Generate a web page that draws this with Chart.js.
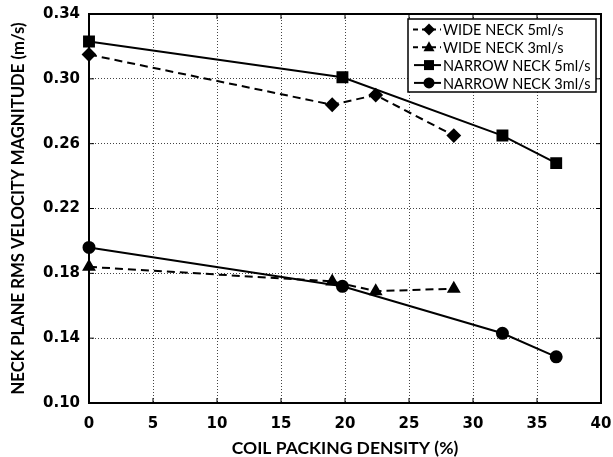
<!DOCTYPE html>
<html>
<head>
<meta charset="utf-8">
<script src="https://cdn.jsdelivr.net/npm/chart.js@4.4.0/dist/chart.umd.min.js"></script>
<style>
  body { margin: 0; background: #fff; }
  #wrap { width: 613px; height: 457px; }
</style>
</head>
<body>
<div id="wrap"><canvas id="neck-chart" width="613" height="457"></canvas></div>
<script>
// coil packing density (%) for each neck type
const wideDensity = [0, 19.0, 22.4, 28.5];
const narrowDensity = [0, 19.8, 32.3, 36.5];
// rms velocity magnitude (m/s)
const wide5 = [0.315, 0.284, 0.290, 0.265];
const wide3 = [0.184, 0.175, 0.169, 0.1705];
const narrow5 = [0.323, 0.301, 0.265, 0.248];
const narrow3 = [0.196, 0.172, 0.143, 0.1285];
const seriesNames = ["WIDE NECK 5ml/s", "WIDE NECK 3ml/s", "NARROW NECK 5ml/s", "NARROW NECK 3ml/s"];
const xTickStep = 5;
const yTickStep = 0.04;

function pts(xs, ys) {
  return xs.map((v, i) => ({ x: v, y: ys[i] }));
}

const base = {
  borderColor: "#000",
  backgroundColor: "#000",
  pointBorderColor: "#000",
  pointBackgroundColor: "#000",
  borderWidth: 2,
  tension: 0,
  clip: false
};

const dataObj = {
  datasets: [
    Object.assign({}, base, { label: seriesNames[0], data: pts(wideDensity, wide5), borderDash: [8, 5], pointStyle: "rectRot", pointRadius: 6 }),
    Object.assign({}, base, { label: seriesNames[1], data: pts(wideDensity, wide3), borderDash: [8, 5], pointStyle: "triangle", pointRadius: 6 }),
    Object.assign({}, base, { label: seriesNames[2], data: pts(narrowDensity, narrow5), pointStyle: "rect", pointRadius: 7 }),
    Object.assign({}, base, { label: seriesNames[3], data: pts(narrowDensity, narrow3), pointStyle: "circle", pointRadius: 5.5 })
  ]
};

// little marker drawer for the legend box
function marker(ctx, style, x, y) {
  ctx.beginPath();
  if (style === "rect") {
    ctx.rect(x - 5, y - 5, 10, 10);
  } else if (style === "rectRot") {
    ctx.moveTo(x, y - 6); ctx.lineTo(x + 6, y); ctx.lineTo(x, y + 6); ctx.lineTo(x - 6, y);
  } else if (style === "triangle") {
    ctx.moveTo(x, y - 6); ctx.lineTo(x + 5.5, y + 4); ctx.lineTo(x - 5.5, y + 4);
  } else {
    ctx.arc(x, y, 5.5, 0, Math.PI * 2);
  }
  ctx.closePath();
  ctx.fill();
}

const framePlugin = {
  id: "frame",
  beforeDatasetsDraw(chart) {
    const { ctx, chartArea: a, scales } = chart;
    ctx.save();
    ctx.strokeStyle = "#000";
    ctx.lineWidth = 1;
    ctx.beginPath();
    scales.x.ticks.forEach(t => {
      const px = scales.x.getPixelForValue(t.value);
      ctx.moveTo(px, a.bottom); ctx.lineTo(px, a.bottom - 5);
      ctx.moveTo(px, a.top); ctx.lineTo(px, a.top + 5);
    });
    scales.y.ticks.forEach(t => {
      const py = scales.y.getPixelForValue(t.value);
      ctx.moveTo(a.left, py); ctx.lineTo(a.left + 5, py);
      ctx.moveTo(a.right, py); ctx.lineTo(a.right - 5, py);
    });
    ctx.stroke();
    ctx.lineWidth = 2;
    ctx.strokeRect(a.left, a.top, a.right - a.left, a.bottom - a.top);
    ctx.restore();
  }
};

const legendPlugin = {
  id: "boxLegend",
  afterDraw(chart) {
    const ctx = chart.ctx;
    const bx = 408, by = 19, bw = 188, bh = 73;
    ctx.save();
    ctx.fillStyle = "#fff";
    ctx.fillRect(bx, by, bw, bh);
    ctx.strokeStyle = "#000";
    ctx.lineWidth = 1.5;
    ctx.strokeRect(bx, by, bw, bh);
    chart.data.datasets.forEach((ds, i) => {
      const ry = by + 10.5 + i * 17.8;
      ctx.strokeStyle = "#000";
      ctx.fillStyle = "#000";
      ctx.lineWidth = 2;
      ctx.setLineDash(ds.borderDash ? [5, 4] : []);
      ctx.beginPath();
      ctx.moveTo(ds.borderDash ? 413 : 414, ry);
      ctx.lineTo(441, ry);
      ctx.stroke();
      ctx.setLineDash([]);
      marker(ctx, ds.pointStyle, 429, ry);
      ctx.font = "14.5px Lato";
      ctx.textBaseline = "middle";
      ctx.textAlign = "left";
      ctx.fillText(ds.label, 443, ry + 1);
    });
    ctx.restore();
  }
};

new Chart("neck-chart", {
  type: "line",
  data: dataObj,
  plugins: [framePlugin, legendPlugin],
  options: {
    responsive: false,
    animation: false,
    layout: { padding: { top: 14, right: 12, left: 0, bottom: 0 } },
    plugins: {
      legend: { display: false },
      tooltip: { enabled: false }
    },
    scales: {
      x: {
        type: "linear",
        min: 0,
        max: 40,
        afterFit: s => { s.height = 54; s.paddingLeft = 0; s.paddingRight = 0; },
        border: { display: false, dash: [1, 2] },
        grid: { color: "#444", lineWidth: 1, drawTicks: false },
        ticks: { stepSize: xTickStep, padding: 12, maxRotation: 0, color: "#000", font: { family: "DejaVu Sans", size: 15, weight: "bold" } },
        title: { display: true, text: "COIL PACKING DENSITY (%)", color: "#000", padding: { top: 0, bottom: 0 }, font: { family: "Lato", size: 17.5, weight: "bold", lineHeight: 1 } }
      },
      y: {
        min: 0.10,
        max: 0.34,
        afterFit: s => { s.width = 89; s.paddingTop = 0; s.paddingBottom = 0; },
        border: { display: false, dash: [1, 2] },
        grid: { color: "#444", lineWidth: 1, drawTicks: false },
        ticks: {
          stepSize: yTickStep,
          padding: 9,
          color: "#000",
          font: { family: "DejaVu Sans", size: 15, weight: "bold" },
          callback: v => Number(v).toFixed(2)
        },
        title: { display: true, text: "NECK PLANE RMS VELOCITY MAGNITUDE (m/s)", color: "#000", padding: { top: 10.5, bottom: 0 }, font: { family: "Lato", size: 16.7, weight: "bold", lineHeight: 1 } }
      }
    }
  }
});
</script>
</body>
</html>
